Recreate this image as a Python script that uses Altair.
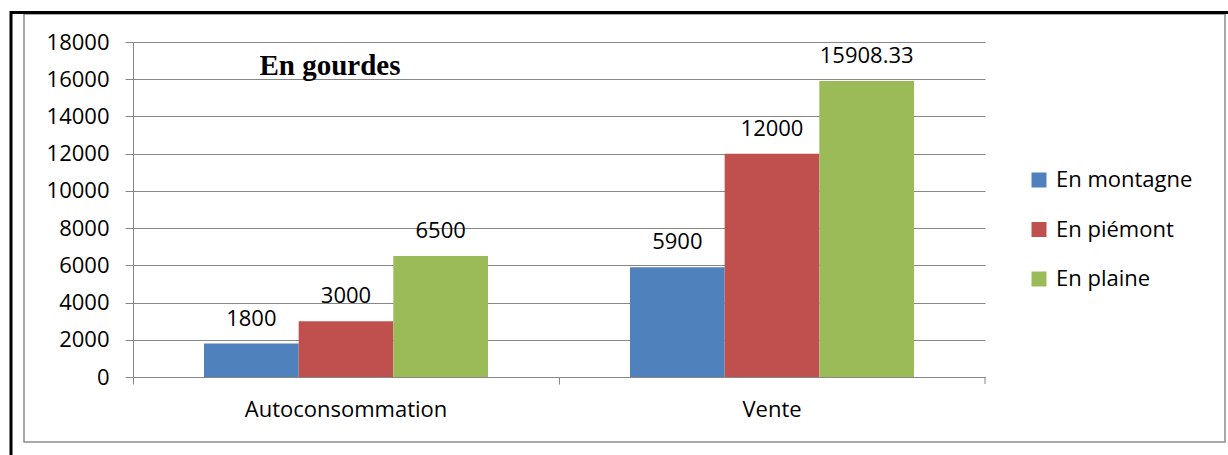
import altair as alt
import pandas as pd

categories = ["Autoconsommation", "Vente"]
series = ["En montagne", "En piémont", "En plaine"]
montagne = [1800, 5900]
piemont = [3000, 12000]
plaine = [6500, 15908.33]
labels_montagne = ["1800", "5900"]
labels_piemont = ["3000", "12000"]
labels_plaine = ["6500", "15908.33"]
y_ticks = [0, 2000, 4000, 6000, 8000, 10000, 12000, 14000, 16000, 18000]
colors = ["#4F81BD", "#C0504D", "#9BBB59"]

rows = []
for s, vals, labs in zip(series, [montagne, piemont, plaine],
                         [labels_montagne, labels_piemont, labels_plaine]):
    for c, v, l in zip(categories, vals, labs):
        rows.append({"cat": c, "serie": s, "val": v, "label": l})
df = pd.DataFrame(rows)

FONT = "Open Sans"
FS = 22
W, H = 852, 335
PL, PT = 133, 42
TOTAL_W, TOTAL_H = 1228, 455

base = alt.Chart(df).encode(
    x=alt.X("cat:N", sort=categories, title=None,
            scale=alt.Scale(paddingInner=0, paddingOuter=0),
            axis=alt.Axis(bandPosition=0, labelAngle=0, labelFont=FONT,
                          labelFontSize=FS, labelColor="#000000", labelLimit=0,
                          labelPadding=15, tickSize=7, tickColor="#878787",
                          domainColor="#878787", grid=False)),
    xOffset=alt.XOffset("serie:N", sort=series,
                        scale=alt.Scale(paddingOuter=0.75, paddingInner=0)),
    y=alt.Y("val:Q", title=None,
            scale=alt.Scale(domain=[0, 18000], nice=False),
            axis=alt.Axis(values=y_ticks, format="d", labelFont=FONT,
                          labelFontSize=FS, labelColor="#000000",
                          labelPadding=16, tickSize=8, tickColor="#878787",
                          domainColor="#878787", gridColor="#878787",
                          gridWidth=1.2)),
)

bars = base.mark_bar().encode(
    color=alt.Color("serie:N", sort=series,
                    scale=alt.Scale(domain=series, range=colors),
                    legend=alt.Legend(title=None, orient="none",
                                      legendX=895, legendY=127,
                                      symbolType="square", symbolSize=225,
                                      symbolStrokeWidth=0, labelFont=FONT,
                                      labelFontSize=FS, labelColor="#000000",
                                      labelOffset=6, rowPadding=27.5))
)

text = base.mark_text(baseline="alphabetic", dy=-18, font=FONT, fontSize=FS,
                      color="#000000").encode(text="label:N")

title = alt.Chart(pd.DataFrame({"t": ["En gourdes"]})).mark_text(
    font="Liberation Serif", fontSize=29, fontWeight="bold",
    color="#000000", align="center", baseline="middle"
).encode(x=alt.value(197), y=alt.value(24), text="t:N")

# right-most category boundary tick
rtick = alt.Chart(pd.DataFrame({"a": [0]})).mark_rule(
    color="#878787", strokeWidth=1).encode(
    x=alt.value(W), y=alt.value(H), y2=alt.value(H + 7))

# outer frame: black top & left, grey inner box
frame_data = pd.DataFrame({"a": [0]})
black_top = alt.Chart(frame_data).mark_rule(color="#000000", strokeWidth=3).encode(
    x=alt.value(10 - PL), x2=alt.value(TOTAL_W - PL), y=alt.value(12.5 - PT))
black_left = alt.Chart(frame_data).mark_rule(color="#000000", strokeWidth=3).encode(
    x=alt.value(11 - PL), y=alt.value(11 - PT), y2=alt.value(TOTAL_H - PT))
grey_box = alt.Chart(frame_data).mark_rect(
    fill=None, stroke="#8c8c8c", strokeWidth=1.5).encode(
    x=alt.value(24 - PL), x2=alt.value(1225 - PL),
    y=alt.value(14 - PT), y2=alt.value(442 - PT))

chart = alt.layer(grey_box, black_top, black_left, bars, text, title, rtick).properties(
    width=W, height=H,
    autosize=alt.AutoSizeParams(type="none"),
    padding={"left": PL, "top": PT, "right": TOTAL_W - PL - W,
             "bottom": TOTAL_H - PT - H},
    background="#ffffff",
).configure_view(stroke=None)

chart.save("out.html", embed_options={"renderer": "svg", "actions": False})
